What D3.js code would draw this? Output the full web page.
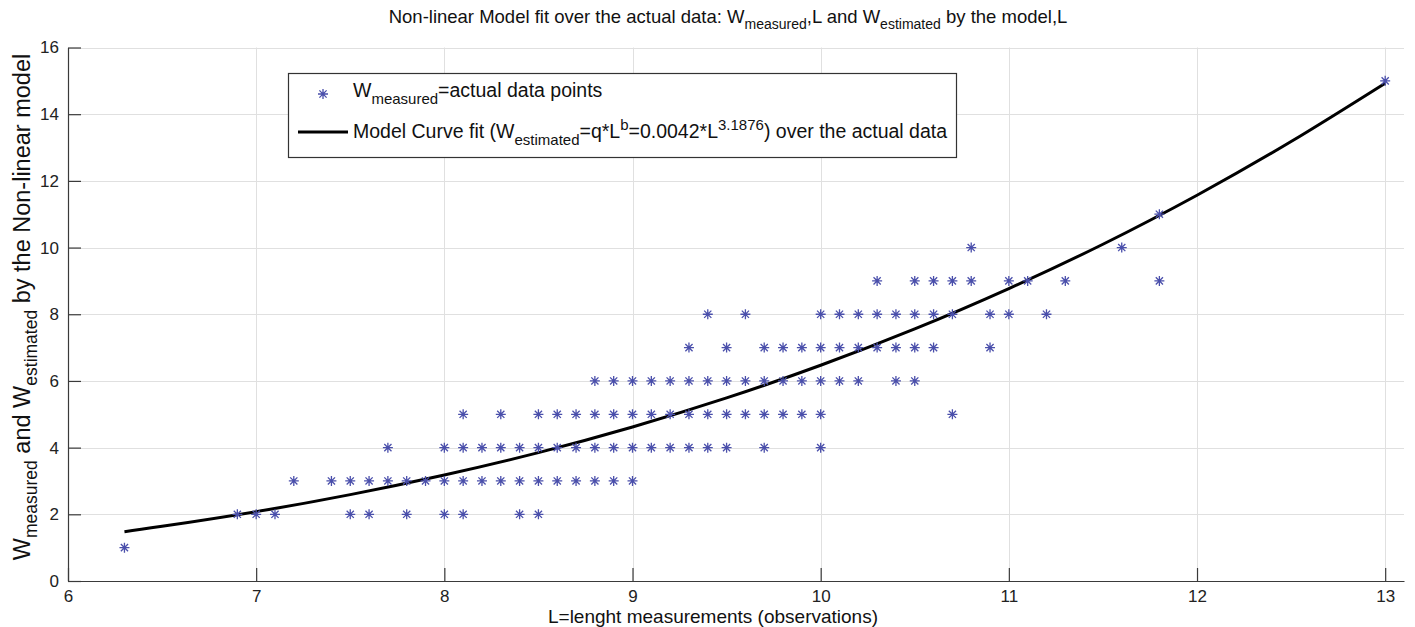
<!DOCTYPE html>
<html>
<head>
<meta charset="utf-8">
<script src="https://cdn.jsdelivr.net/npm/d3@7"></script>
<style>
  html, body { margin: 0; padding: 0; background: #fff; }
  svg { display: block; font-family: "Liberation Sans", Arial, sans-serif; }
</style>
</head>
<body>
<svg id="chart" width="1415" height="627"></svg>
<script>
// ---- Data ----
// Measured points grouped by W value: L values at each W level
const w1  = [6.3];
const w2  = [6.9, 7.0, 7.1, 7.5, 7.6, 7.8, 8.0, 8.1, 8.4, 8.5];
const w3  = [7.2, 7.4, 7.5, 7.6, 7.7, 7.8, 7.9, 8.0, 8.1, 8.2, 8.3, 8.4, 8.5, 8.6, 8.7, 8.8, 8.9, 9.0];
const w4  = [7.7, 8.0, 8.1, 8.2, 8.3, 8.4, 8.5, 8.6, 8.7, 8.8, 8.9, 9.0, 9.1, 9.2, 9.3, 9.4, 9.5, 9.7, 10.0];
const w5  = [8.1, 8.3, 8.5, 8.6, 8.7, 8.8, 8.9, 9.0, 9.1, 9.2, 9.3, 9.4, 9.5, 9.6, 9.7, 9.8, 9.9, 10.0, 10.7];
const w6  = [8.8, 8.9, 9.0, 9.1, 9.2, 9.3, 9.4, 9.5, 9.6, 9.7, 9.8, 9.9, 10.0, 10.1, 10.2, 10.4, 10.5];
const w7  = [9.3, 9.5, 9.7, 9.8, 9.9, 10.0, 10.1, 10.2, 10.3, 10.4, 10.5, 10.6, 10.9];
const w8  = [9.4, 9.6, 10.0, 10.1, 10.2, 10.3, 10.4, 10.5, 10.6, 10.7, 10.9, 11.0, 11.2];
const w9  = [10.3, 10.5, 10.6, 10.7, 10.8, 11.0, 11.1, 11.3, 11.8];
const w10 = [10.8, 11.6];
const w11 = [11.8];
const w15 = [13.0];
const measuredLevels = [
  [1, w1], [2, w2], [3, w3], [4, w4], [5, w5], [6, w6],
  [7, w7], [8, w8], [9, w9], [10, w10], [11, w11], [15, w15]
];

// Model curve samples (L, W_estimated)
const curveL = [6.3, 6.5, 7.0, 7.5, 8.0, 8.5, 9.0, 9.5, 10.0, 10.5, 11.0, 11.5, 12.0, 12.5, 13.0];
const curveW = [1.48, 1.64, 2.08, 2.59, 3.18, 3.85, 4.62, 5.49, 6.47, 7.56, 8.77, 10.10, 11.57, 13.18, 14.93];

const xTicks = [6, 7, 8, 9, 10, 11, 12, 13];
const yTicks = [0, 2, 4, 6, 8, 10, 12, 14, 16];

// ---- Layout ----
const svg = d3.select("#chart");
const x = d3.scaleLinear().domain([6, 13.1]).range([68, 1404]);
const y = d3.scaleLinear().domain([0, 16]).range([581, 47.5]);

const points = [];
measuredLevels.forEach(([w, arr]) => arr.forEach(l => points.push({ l, w })));
const curve = curveL.map((l, i) => ({ l, w: curveW[i] }));

// Grid
const grid = svg.append("g").attr("stroke", "#e0e0e0").attr("stroke-width", 1);
grid.selectAll("line.gx").data(xTicks.slice(1)).join("line")
  .attr("x1", d => Math.round(x(d)) + 0.5).attr("x2", d => Math.round(x(d)) + 0.5)
  .attr("y1", y(0)).attr("y2", y(16));
grid.selectAll("line.gy").data(yTicks.slice(1)).join("line")
  .attr("y1", d => Math.round(y(d)) + 0.5).attr("y2", d => Math.round(y(d)) + 0.5)
  .attr("x1", x(6)).attr("x2", x(13.1));

// Axes (ticks inward)
const xAxis = svg.append("g").attr("transform", `translate(0,${y(0)})`)
  .call(d3.axisBottom(x).tickValues(xTicks).tickSizeInner(-13).tickSizeOuter(0).tickPadding(9).tickFormat(d3.format("d")));
const yAxis = svg.append("g").attr("transform", `translate(${x(6)},0)`)
  .call(d3.axisLeft(y).tickValues(yTicks).tickSizeInner(-13).tickSizeOuter(0).tickPadding(9).tickFormat(d3.format("d")));
[xAxis, yAxis].forEach(a => {
  a.select(".domain").attr("stroke", "#3a3a3a").attr("stroke-width", 1.2);
  a.selectAll(".tick line").attr("stroke", "#3a3a3a").attr("stroke-width", 1.2);
  a.selectAll(".tick text").attr("fill", "#222").attr("font-size", 17)
    .attr("font-family", "'Liberation Sans', Arial, sans-serif");
});

// Model curve
const line = d3.line().x(d => x(d.l)).y(d => y(d.w)).curve(d3.curveNatural);
svg.append("path").datum(curve).attr("d", line)
  .attr("fill", "none").attr("stroke", "#000").attr("stroke-width", 3);

// Asterisk markers
const r = 5;
const starPath = `M${-r},0L${r},0M0,${-r}L0,${r}M${-r*0.72},${-r*0.72}L${r*0.72},${r*0.72}M${-r*0.72},${r*0.72}L${r*0.72},${-r*0.72}`;
svg.append("g").selectAll("path").data(points).join("path")
  .attr("transform", d => `translate(${x(d.l)},${y(d.w)})`)
  .attr("d", starPath).attr("stroke", "#4a4fab").attr("stroke-width", 1.3).attr("fill", "none");

// Title
const title = svg.append("text").attr("x", 728).attr("y", 23).attr("text-anchor", "middle")
  .attr("font-size", 18.5).attr("fill", "#111");
title.append("tspan").text("Non-linear Model fit over the actual data: W");
title.append("tspan").attr("font-size", 14).attr("dy", 6).text("measured");
title.append("tspan").attr("dy", -6).text(",L and W");
title.append("tspan").attr("font-size", 14).attr("dy", 6).text("estimated");
title.append("tspan").attr("dy", -6).text(" by the model,L");

// X label
svg.append("text").attr("x", 713).attr("y", 623).attr("text-anchor", "middle")
  .attr("font-size", 19).attr("fill", "#111").text("L=lenght measurements (observations)");

// Y label
const yl = svg.append("text").attr("transform", "translate(30,307) rotate(-90)")
  .attr("text-anchor", "middle").attr("font-size", 23.5).attr("fill", "#111");
yl.append("tspan").text("W");
yl.append("tspan").attr("font-size", 17.5).attr("dy", 7).text("measured");
yl.append("tspan").attr("dy", -7).text(" and W");
yl.append("tspan").attr("font-size", 17.5).attr("dy", 7).text("estimated");
yl.append("tspan").attr("dy", -7).text(" by the Non-linear model");

// Legend
const lg = svg.append("g");
lg.append("rect").attr("x", 288.5).attr("y", 73.5).attr("width", 668).attr("height", 84)
  .attr("fill", "#fff").attr("stroke", "#333").attr("stroke-width", 1.2);
lg.append("path").attr("transform", "translate(323,94)").attr("d", starPath)
  .attr("stroke", "#4a4fab").attr("stroke-width", 1.3).attr("fill", "none");
const t1 = lg.append("text").attr("x", 353).attr("y", 97).attr("font-size", 19.5).attr("fill", "#111");
t1.append("tspan").text("W");
t1.append("tspan").attr("font-size", 15).attr("dy", 7).text("measured");
t1.append("tspan").attr("dy", -7).text("=actual data points");
lg.append("line").attr("x1", 298).attr("x2", 348).attr("y1", 132).attr("y2", 132)
  .attr("stroke", "#000").attr("stroke-width", 3);
const t2 = lg.append("text").attr("x", 353).attr("y", 138).attr("font-size", 19.5).attr("fill", "#111");
t2.append("tspan").text("Model Curve fit (W");
t2.append("tspan").attr("font-size", 15).attr("dy", 7).text("estimated");
t2.append("tspan").attr("dy", -7).text("=q*L");
t2.append("tspan").attr("font-size", 15).attr("dy", -8).text("b");
t2.append("tspan").attr("dy", 8).text("=0.0042*L");
t2.append("tspan").attr("font-size", 15).attr("dy", -8).text("3.1876");
t2.append("tspan").attr("dy", 8).text(") over the actual data");
</script>
</body>
</html>
